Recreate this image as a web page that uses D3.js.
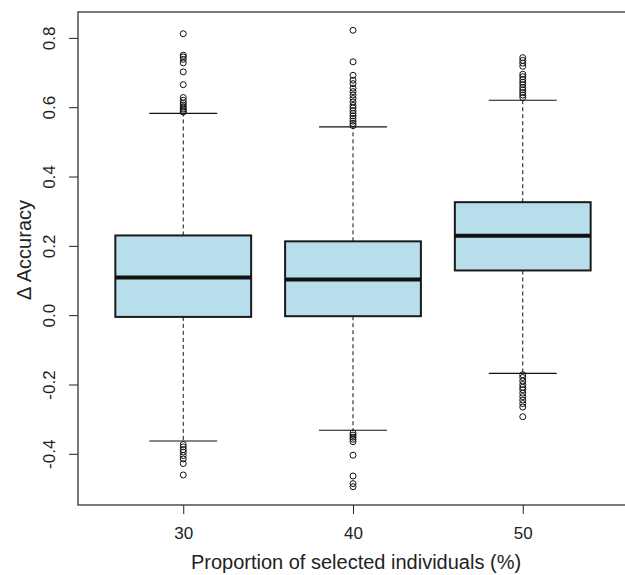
<!DOCTYPE html>
<html>
<head>
<meta charset="utf-8">
<script src="https://cdn.jsdelivr.net/npm/d3@7"></script>
<style>
  body { margin: 0; background: #fff; }
  text { font-family: "Liberation Sans", Arial, sans-serif; fill: #222; }
</style>
</head>
<body>
<svg id="chart" width="625" height="575"></svg>
<script>
// groups on the x axis
var groups = ["30", "40", "50"];

// box statistics
var lowerWhisker = [-0.363, -0.332, -0.168];
var q1 = [-0.005, -0.003, 0.129];
var medians = [0.109, 0.103, 0.229];
var q3 = [0.230, 0.213, 0.326];
var upperWhisker = [0.582, 0.543, 0.620];

// outliers per group
var outliers30 = [0.812, 0.750, 0.745, 0.738, 0.728, 0.702, 0.665, 0.628, 0.620, 0.612, 0.606, 0.600, 0.595, 0.590, 0.586,
    -0.373, -0.380, -0.388, -0.395, -0.405, -0.415, -0.428, -0.461];
var outliers40 = [0.822, 0.731, 0.692, 0.678, 0.668, 0.655, 0.645, 0.635, 0.625, 0.615, 0.605, 0.598, 0.590, 0.582, 0.575, 0.568, 0.560, 0.553, 0.547,
    -0.340, -0.346, -0.352, -0.358, -0.365, -0.404, -0.464, -0.486, -0.495];
var outliers50 = [0.743, 0.735, 0.727, 0.718, 0.695, 0.688, 0.680, 0.672, 0.665, 0.657, 0.650, 0.642, 0.635, 0.628,
    -0.172, -0.180, -0.190, -0.200, -0.208, -0.215, -0.225, -0.235, -0.245, -0.255, -0.265, -0.293];

var yTicks = [-0.4, -0.2, 0.0, 0.2, 0.4, 0.6, 0.8];

var svg = d3.select("#chart");
var tickFont = 17, titleFont = 20;

var plotLeft = 78, plotRight = 628, plotTop = 12, plotBottom = 505;

// R style 4% padding around the data range
var allOutliers = outliers30.concat(outliers40, outliers50);
var ext = d3.extent(allOutliers.concat(lowerWhisker, upperWhisker));
var pad = (ext[1] - ext[0]) * 0.04;

var x = d3.scaleLinear()
    .domain([0.5 - 0.12, groups.length + 0.5 + 0.12])
    .range([plotLeft, plotRight]);

var y = d3.scaleLinear()
    .domain([ext[0] - pad, ext[1] + pad])
    .range([plotBottom, plotTop]);

var boxes = groups.map(function (g, i) {
    return {
        pos: i + 1, label: g,
        lo: lowerWhisker[i], q1: q1[i], med: medians[i], q3: q3[i], hi: upperWhisker[i],
        out: [outliers30, outliers40, outliers50][i]
    };
});

var boxHalf = 0.4, capHalf = 0.2;

var g = svg.append("g");

// whiskers (dashed)
g.selectAll(".whisker-up")
    .data(boxes).enter().append("line")
    .attr("x1", d => x(d.pos)).attr("x2", d => x(d.pos))
    .attr("y1", d => y(d.q3)).attr("y2", d => y(d.hi))
    .attr("stroke", "#111").attr("stroke-dasharray", "4,3");

g.selectAll(".whisker-down")
    .data(boxes).enter().append("line")
    .attr("x1", d => x(d.pos)).attr("x2", d => x(d.pos))
    .attr("y1", d => y(d.q1)).attr("y2", d => y(d.lo))
    .attr("stroke", "#111").attr("stroke-dasharray", "4,3");

// staples
["hi", "lo"].forEach(function (k) {
    g.selectAll(".cap-" + k)
        .data(boxes).enter().append("line")
        .attr("x1", d => x(d.pos - capHalf)).attr("x2", d => x(d.pos + capHalf))
        .attr("y1", d => y(d[k])).attr("y2", d => y(d[k]))
        .attr("stroke", "#111").attr("stroke-width", 1.2);
});

// boxes
g.selectAll(".box")
    .data(boxes).enter().append("rect")
    .attr("x", d => x(d.pos - boxHalf))
    .attr("width", d => x(d.pos + boxHalf) - x(d.pos - boxHalf))
    .attr("y", d => y(d.q3))
    .attr("height", d => y(d.q1) - y(d.q3))
    .attr("fill", "#b9deeb")
    .attr("stroke", "#1a1a1a").attr("stroke-width", 2);

// medians
g.selectAll(".median")
    .data(boxes).enter().append("line")
    .attr("x1", d => x(d.pos - boxHalf)).attr("x2", d => x(d.pos + boxHalf))
    .attr("y1", d => y(d.med)).attr("y2", d => y(d.med))
    .attr("stroke", "#111").attr("stroke-width", 4);

// outlier points
boxes.forEach(function (b) {
    g.selectAll(null)
        .data(b.out).enter().append("circle")
        .attr("cx", x(b.pos))
        .attr("cy", d => y(d))
        .attr("r", 3)
        .attr("fill", "none")
        .attr("stroke", "#111").attr("stroke-width", 1);
});

// frame (right side falls outside the picture)
svg.append("rect")
    .attr("x", plotLeft).attr("y", plotTop)
    .attr("width", plotRight - plotLeft).attr("height", plotBottom - plotTop)
    .attr("fill", "none").attr("stroke", "#222").attr("stroke-width", 1.2);

// y axis
var yAxis = d3.axisLeft(y)
    .tickValues(yTicks)
    .tickSize(9)
    .tickFormat(d => d3.format(".1f")(d).replace("\u2212", "-"));

var ya = svg.append("g")
    .attr("transform", "translate(" + plotLeft + ",0)")
    .call(yAxis);
ya.select(".domain").remove();
ya.selectAll(".tick line").attr("stroke", "#222");
ya.selectAll(".tick text")
    .attr("x", 0).attr("dy", null)
    .attr("text-anchor", "middle")
    .attr("font-size", tickFont)
    .attr("transform", "translate(-23,0) rotate(-90)")
    .attr("fill", "#222");

// x axis
var xAxis = d3.axisBottom(x)
    .tickValues(boxes.map(d => d.pos))
    .tickSize(9)
    .tickFormat((d, i) => groups[i]);

var xa = svg.append("g")
    .attr("transform", "translate(0," + plotBottom + ")")
    .call(xAxis);
xa.select(".domain").remove();
xa.selectAll(".tick line").attr("stroke", "#222");
xa.selectAll(".tick text")
    .attr("y", 34).attr("dy", null)
    .attr("font-size", tickFont)
    .attr("fill", "#222");

// axis titles
svg.append("text")
    .attr("x", x(2) + 3)
    .attr("y", 569)
    .attr("text-anchor", "middle")
    .attr("font-size", titleFont)
    .text("Proportion of selected individuals (%)");

svg.append("text")
    .attr("transform", "translate(31,250) rotate(-90)")
    .attr("text-anchor", "middle")
    .attr("font-size", titleFont)
    .text("\u0394 Accuracy");
</script>
</body>
</html>
